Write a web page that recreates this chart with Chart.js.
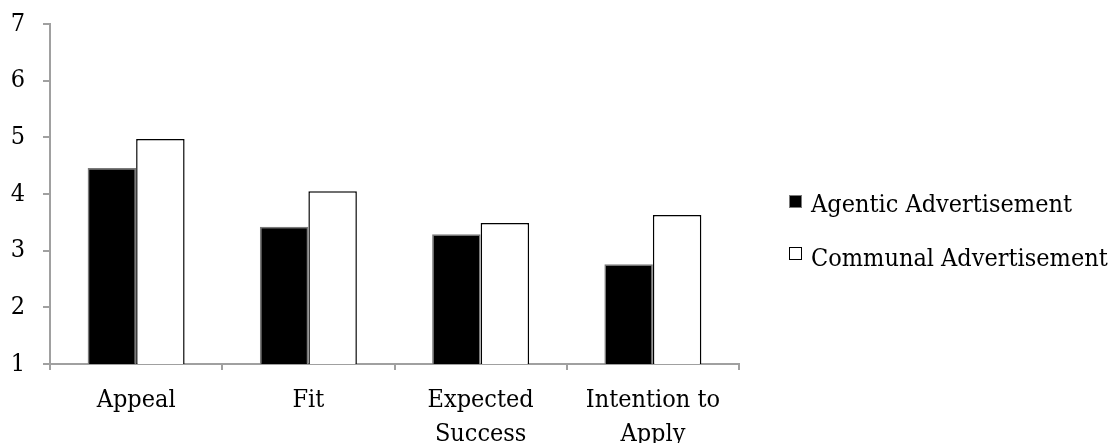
<!DOCTYPE html>
<html>
<head>
<meta charset="utf-8">
<script src="https://cdn.jsdelivr.net/npm/chart.js@4/dist/chart.umd.min.js"></script>
<style>
  body { margin: 0; background: #fff; }
  #wrap { position: relative; width: 1112px; height: 443px; overflow: hidden; }
  .leg { position: absolute; left: 789px; font: 25px 'DejaVu Serif Condensed', 'DejaVu Serif', serif; color: #000; white-space: nowrap; }
  .leg i { position: absolute; left: 0; width: 11px; height: 11px; border: 1.5px solid #000; }
  .leg span { position: absolute; left: 22px; top: 0; }
</style>
</head>
<body>
<div id="wrap">
  <canvas id="chart" width="1112" height="443"></canvas>
  <div id="legend"></div>
</div>
<script>
// DATA
var categories = ['Appeal', 'Fit', ['Expected', 'Success'], ['Intention to', 'Apply']];
var seriesNames = ['Agentic Advertisement', 'Communal Advertisement'];
var agentic = [4.46, 3.42, 3.29, 2.76];
var communal = [4.97, 4.05, 3.49, 3.63];
var yTicks = [1, 2, 3, 4, 5, 6, 7];

var axisGray = '#a0a0a0';
var fills = ['#000', '#fff'];
var edges = ['#7a7a7a', '#000'];

Chart.defaults.font.family = "'DejaVu Serif Condensed', 'DejaVu Serif', serif";
Chart.defaults.font.size = 25;
Chart.defaults.color = '#000';

var chart = new Chart(document.getElementById('chart'), {
    type: 'bar',
    data: {
        labels: categories,
        datasets: [{
            label: seriesNames[0],
            data: agentic,
            backgroundColor: fills[0],
            borderColor: edges[0],
            borderWidth: 1.5
        }, {
            label: seriesNames[1],
            data: communal,
            backgroundColor: fills[1],
            borderColor: edges[1],
            borderWidth: 1.5
        }]
    },
    options: {
        responsive: false,
        animation: false,
        layout: { padding: { top: 24, right: 373, bottom: 0, left: 0 } },
        datasets: { bar: { categoryPercentage: 0.563, barPercentage: 1 } },
        plugins: {
            tooltip: { enabled: false },
            legend: { display: false }
        },
        scales: {
            x: {
                grid: { drawOnChartArea: false, tickLength: 6, color: axisGray, lineWidth: 2 },
                border: { color: axisGray, width: 2 },
                ticks: { padding: 14, font: { lineHeight: 1.35 }, maxRotation: 0, autoSkip: false },
                afterFit: function(scale) { scale.height = 79; }
            },
            y: {
                min: yTicks[0],
                max: yTicks[yTicks.length - 1],
                afterBuildTicks: function(scale) {
                    scale.ticks = yTicks.map(function(v) { return { value: v }; });
                },
                grid: { drawOnChartArea: false, tickLength: 7, color: axisGray, lineWidth: 2 },
                border: { color: axisGray, width: 2 },
                ticks: { padding: 18 },
                afterFit: function(scale) {
                    scale.width = 50;
                    scale.paddingTop = 0;
                    scale.paddingBottom = 0;
                }
            }
        }
    }
});

// legend as html text, built from the datasets
var legendTops = [189, 243];
var boxTops = [195, 247];
var legend = document.getElementById('legend');
chart.data.datasets.forEach(function(ds, i) {
    var row = document.createElement('div');
    row.className = 'leg';
    row.style.top = legendTops[i] + 'px';
    var box = document.createElement('i');
    box.style.background = ds.backgroundColor;
    box.style.borderColor = ds.borderColor;
    box.style.top = (boxTops[i] - legendTops[i]) + 'px';
    var txt = document.createElement('span');
    txt.textContent = ds.label;
    row.appendChild(box);
    row.appendChild(txt);
    legend.appendChild(row);
});
</script>
</body>
</html>
